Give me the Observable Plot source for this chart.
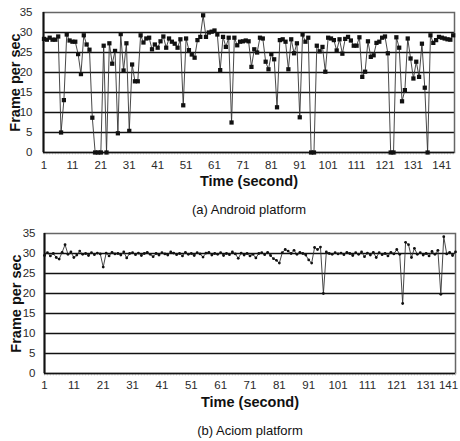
<!DOCTYPE html>
<html>
<head>
<meta charset="utf-8">
<script src="https://cdn.jsdelivr.net/npm/d3@7"></script>
<script src="https://cdn.jsdelivr.net/npm/@observablehq/plot@0.6"></script>
<style>
  body { margin: 0; background: #fff; }
  #wrap { width: 460px; height: 441px; overflow: hidden; }
  #wrap svg { display: block; }
</style>
</head>
<body>
<div id="wrap"></div>
<script>
// ---- data ----
const androidFps = [
  28.4, 28.2, 28.7, 28.2, 28.2, 29.0, 5.0, 13.1, 29.5, 28.0,
  27.7, 27.7, 24.6, 19.6, 29.3, 27.0, 25.7, 8.7, 0, 0,
  0, 26.7, 0, 27.3, 22.2, 25.4, 4.8, 29.6, 20.5, 27.3,
  5.4, 22.0, 17.8, 17.8, 29.3, 27.5, 28.5, 28.7, 25.8, 27.0,
  26.2, 27.8, 29.0, 26.2, 28.5, 27.7, 27.2, 26.2, 28.3, 11.8,
  28.5, 25.6, 24.5, 23.7, 28.1, 28.9, 34.3, 28.9, 30.0, 30.2,
  30.5, 29.5, 20.6, 28.9, 26.4, 28.7, 7.5, 28.7, 26.8, 27.7,
  27.8, 28.0, 27.8, 21.4, 25.8, 25.0, 28.7, 28.5, 22.7, 20.8,
  24.6, 23.3, 11.3, 28.1, 28.3, 27.7, 20.8, 28.3, 24.8, 27.3,
  8.8, 29.5, 27.7, 28.7, 0, 0, 26.7, 25.3, 26.4, 20.2,
  28.7, 28.5, 28.1, 25.5, 28.3, 24.7, 28.4, 28.9, 28.0, 26.7,
  26.7, 28.8, 18.9, 20.2, 27.8, 23.9, 24.3, 27.4, 27.7, 28.7,
  29.0, 24.8, 0, 0, 28.8, 26.2, 12.8, 15.6, 28.5, 23.5,
  18.5, 22.7, 18.9, 27.2, 16.2, 0, 29.3, 27.4, 28.1, 28.9,
  28.7, 28.5, 28.3, 28.2, 29.3
];
const aciomFps = [
  29.5, 30.2, 29.4, 30.0, 29.0, 28.6, 30.3, 32.2, 29.8, 30.4,
  29.0, 29.6, 30.6, 29.8, 30.0, 29.5, 30.2, 29.7, 30.1, 29.9,
  26.6, 30.1, 29.4, 30.3, 29.9, 30.0, 29.6, 30.4, 28.9, 30.0,
  30.2, 29.7, 30.1, 29.5, 30.0, 30.3, 29.8, 29.2, 30.0, 29.6,
  30.2, 29.9, 29.6, 30.4, 30.1, 29.7, 30.0, 29.4, 30.3, 29.8,
  30.0, 29.5, 30.2, 29.9, 29.1, 30.1, 30.3, 29.6, 30.0, 29.8,
  30.2, 29.5, 30.0, 29.7, 30.4, 29.9, 28.8, 30.1, 29.6, 30.0,
  29.4, 29.8, 28.9, 30.0, 30.2, 29.7, 30.3, 29.5, 28.7, 28.3,
  27.6, 30.2, 31.0, 30.6, 30.0, 30.8, 29.8, 30.3, 30.0, 29.6,
  28.4, 27.6, 31.5, 31.0, 31.6, 20.0, 30.4, 30.0, 29.8, 30.2,
  29.9, 30.1, 29.7, 30.3, 30.0, 29.5, 30.2, 29.8, 30.4, 29.2,
  30.1, 29.6, 30.3, 29.0, 30.2, 29.7, 30.0, 29.4, 30.3, 29.9,
  31.0, 29.8, 17.5, 32.8, 32.2, 29.0, 31.3, 29.8, 30.2, 29.6,
  30.0, 29.4, 30.5, 29.8, 30.8, 19.8, 34.2, 29.9, 30.3, 29.5,
  30.4
];
const yTicks = [0, 5, 10, 15, 20, 25, 30, 35];
const gridValues = [5, 10, 15, 20, 25, 30];
const xTickLabels = [1, 11, 21, 31, 41, 51, 61, 71, 81, 91, 101, 111, 121, 131, 141];
const yTitle = "Frame per sec";
const xTitle = "Time (second)";
const captions = ["(a) Android platform", "(b) Aciom platform"];

const FONT = "'Liberation Sans', Arial, Helvetica, sans-serif";

function chart({values, height, marginBottom, marginLeft, marginRight, xDomain, yPad, symbol, r,
                caption, tickDy, titleDy, captionDy, lastDx}) {
  const data = values.map((v, i) => ({t: i + 1, fps: v}));
  const minor = data.map(d => d.t);
  const mainLabels = xTickLabels.slice(0, -1);
  const lastLabel = xTickLabels.slice(-1);
  return Plot.plot({
    width: 460,
    height,
    marginTop: 12,
    marginBottom,
    marginLeft,
    marginRight,
    style: {fontFamily: FONT, fontSize: "11.5px", color: "#2a2a2a", background: "#fff", overflow: "visible"},
    x: {domain: xDomain, axis: null},
    y: {domain: [0, 35], ticks: yTicks, tickSize: 0, tickPadding: yPad, label: null},
    marks: [
      Plot.ruleY(gridValues, {stroke: "#111", strokeWidth: 1.3}),
      Plot.frame({stroke: "#666", strokeWidth: 1.5}),
      Plot.ruleX(minor, {x: d => d, y1: 0, y2: -0.6, stroke: "#b5b5b5", strokeWidth: 0.8}),
      Plot.ruleY([0], {stroke: "#111", strokeWidth: 1.5}),
      Plot.ruleX([xDomain[0]], {stroke: "#111", strokeWidth: 2}),
      Plot.line(data, {x: "t", y: "fps", stroke: "#333", strokeWidth: 0.9}),
      Plot.dot(data, {x: "t", y: "fps", symbol, r, fill: "#111", stroke: "none"}),
      Plot.text(mainLabels, {x: d => d, y: 0, text: d => String(d), dy: tickDy, lineAnchor: "middle", fill: "#2a2a2a"}),
      Plot.text(lastLabel, {x: d => d, y: 0, text: d => String(d), dy: tickDy, dx: lastDx, lineAnchor: "middle", fill: "#2a2a2a"}),
      Plot.text([xTitle], {frameAnchor: "bottom", lineAnchor: "middle", textAnchor: "middle", dy: titleDy,
        fontSize: 14.5, fontWeight: "bold", fill: "#111"}),
      Plot.text([yTitle], {frameAnchor: "left", lineAnchor: "middle", textAnchor: "middle", dx: -28, rotate: -90,
        fontSize: 14.5, fontWeight: "bold", fill: "#111"}),
      Plot.text([caption], {frameAnchor: "bottom", lineAnchor: "middle", textAnchor: "middle", dy: captionDy,
        fontSize: 13, fill: "#111"})
    ]
  });
}

const wrap = document.getElementById("wrap");
wrap.append(chart({
  values: androidFps, height: 221, marginBottom: 69, marginLeft: 43, marginRight: 6,
  xDomain: [0.82, 145.46], yPad: 11, symbol: "square", r: 2.4, caption: captions[0],
  tickDy: 13, titleDy: 29, captionDy: 57, lastDx: 0
}));
wrap.append(chart({
  values: aciomFps, height: 220, marginBottom: 68, marginLeft: 44, marginRight: 5,
  xDomain: [1, 141], yPad: 9, symbol: "circle", r: 1.4, caption: captions[1],
  tickDy: 12, titleDy: 28.5, captionDy: 57, lastDx: -7
}));
</script>
</body>
</html>
